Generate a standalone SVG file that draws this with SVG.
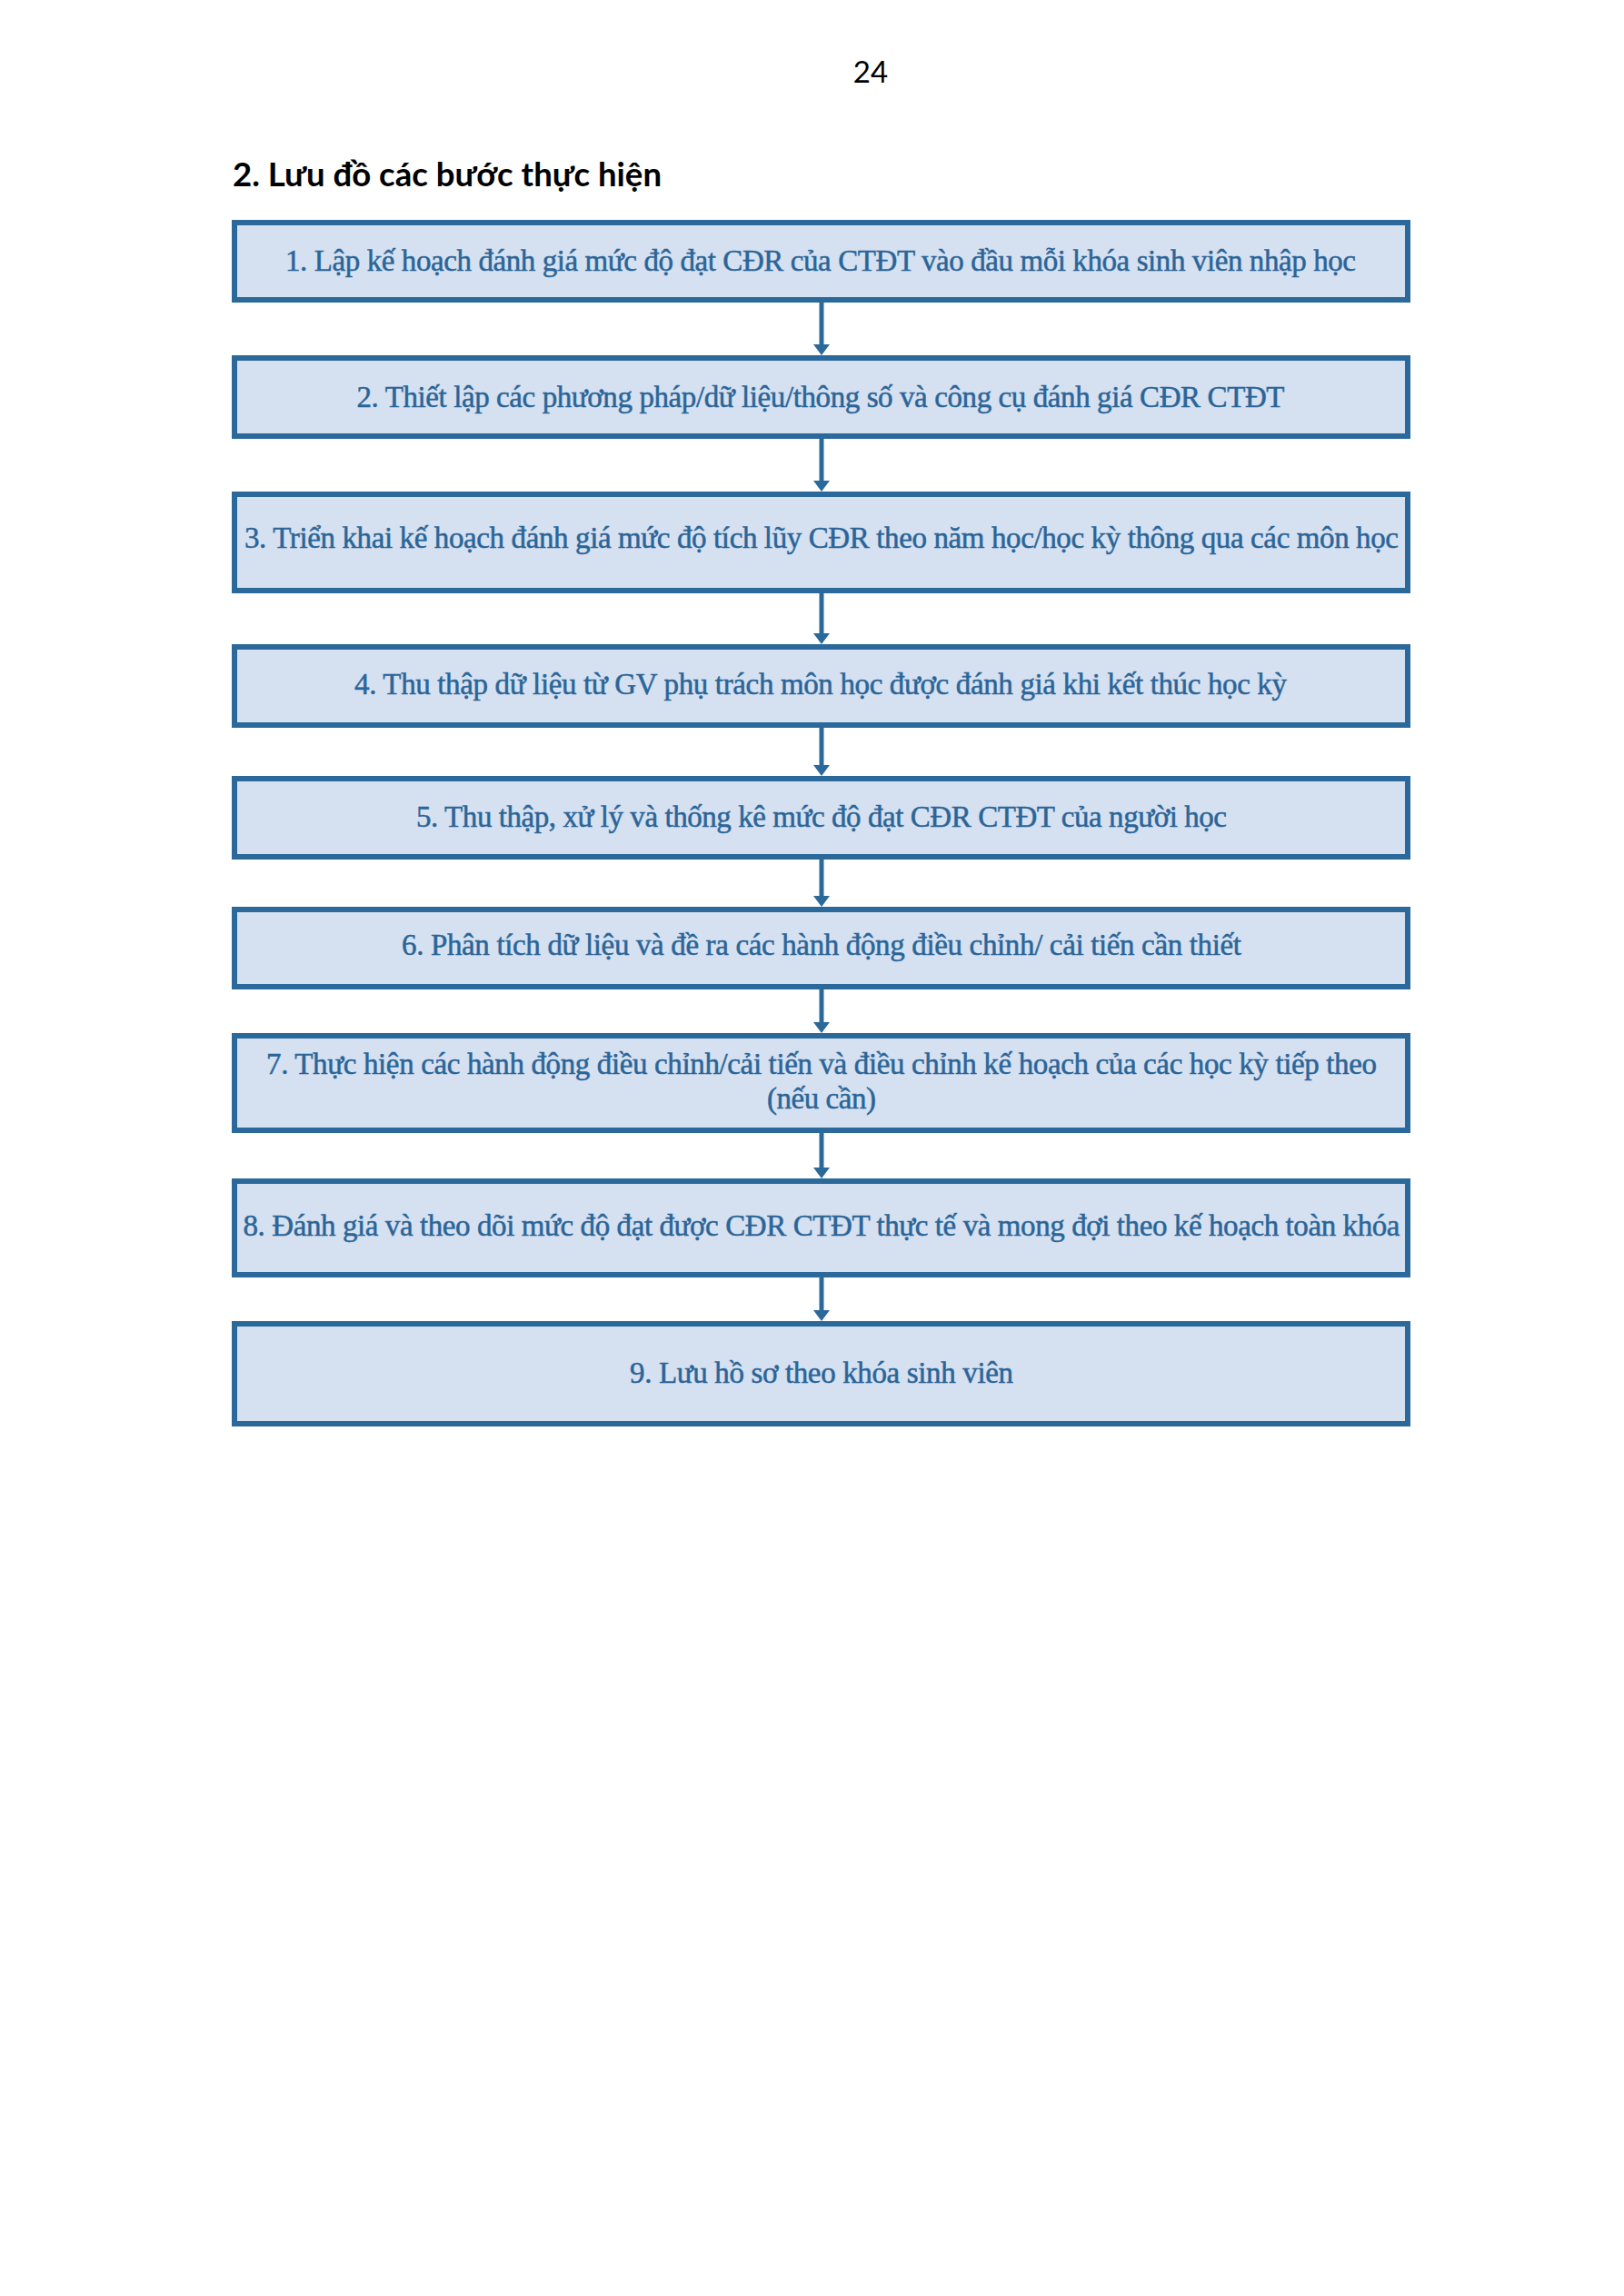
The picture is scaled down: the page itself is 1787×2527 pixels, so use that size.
<svg xmlns="http://www.w3.org/2000/svg" width="1787" height="2527" viewBox="0 0 1787 2527">
<style>
.bg{fill:#ffffff}
.box{fill:#d5e0f0;stroke:#2b699b;stroke-width:6}
.lbl{font-family:"Liberation Serif","Times New Roman",serif;font-size:33px;fill:#2a6598;stroke:#2a6598;stroke-width:0.5;text-anchor:middle}
.conn{stroke:#2b699b;stroke-width:5;fill:none}
.title{font-family:Lato,"Liberation Sans",sans-serif;font-weight:bold;font-size:37px;fill:#000}
.pg{font-family:Lato,"Liberation Sans",sans-serif;font-size:33px;fill:#000;text-anchor:middle}
</style>
<defs>
<marker id="ah" markerUnits="userSpaceOnUse" markerWidth="13" markerHeight="18" refX="3" refY="9" orient="auto">
<path d="M0,0 L12,9 L0,18 z" fill="#2b699b"/>
</marker>
</defs>
<rect class="bg" x="0" y="0" width="1787" height="2527"/>
<text class="pg" x="958" y="91">24</text>
<text class="title" x="256" y="205" textLength="472" lengthAdjust="spacingAndGlyphs">2. Lưu đồ các bước thực hiện</text>
<g id="connectors">
<line class="conn" x1="904" y1="333" x2="904" y2="382" marker-end="url(#ah)"/>
<line class="conn" x1="904" y1="483" x2="904" y2="532" marker-end="url(#ah)"/>
<line class="conn" x1="904" y1="653" x2="904" y2="700" marker-end="url(#ah)"/>
<line class="conn" x1="904" y1="801" x2="904" y2="845" marker-end="url(#ah)"/>
<line class="conn" x1="904" y1="946" x2="904" y2="989" marker-end="url(#ah)"/>
<line class="conn" x1="904" y1="1089" x2="904" y2="1128" marker-end="url(#ah)"/>
<line class="conn" x1="904" y1="1247" x2="904" y2="1288" marker-end="url(#ah)"/>
<line class="conn" x1="904" y1="1406" x2="904" y2="1445" marker-end="url(#ah)"/>
</g>
<g id="step1"><rect class="box" x="258" y="245" width="1291" height="85"/><text class="lbl" x="903" y="298" textLength="1178">1. Lập kế hoạch đánh giá mức độ đạt CĐR của CTĐT vào đầu mỗi khóa sinh viên nhập học</text></g>
<g id="step2"><rect class="box" x="258" y="394" width="1291" height="86"/><text class="lbl" x="903" y="448" textLength="1021">2. Thiết lập các phương pháp/dữ liệu/thông số và công cụ đánh giá CĐR CTĐT</text></g>
<g id="step3"><rect class="box" x="258" y="544" width="1291" height="106"/><text class="lbl" x="904" y="603" textLength="1270">3. Triển khai kế hoạch đánh giá mức độ tích lũy CĐR theo năm học/học kỳ thông qua các môn học</text></g>
<g id="step4"><rect class="box" x="258" y="712" width="1291" height="86"/><text class="lbl" x="903" y="764" textLength="1026">4. Thu thập dữ liệu từ GV phụ trách môn học được đánh giá khi kết thúc học kỳ</text></g>
<g id="step5"><rect class="box" x="258" y="857" width="1291" height="86"/><text class="lbl" x="904" y="910" textLength="892">5. Thu thập, xử lý và thống kê mức độ đạt CĐR CTĐT của người học</text></g>
<g id="step6"><rect class="box" x="258" y="1001" width="1291" height="85"/><text class="lbl" x="904" y="1051" textLength="924">6. Phân tích dữ liệu và đề ra các hành động điều chỉnh/ cải tiến cần thiết</text></g>
<g id="step7"><rect class="box" x="258" y="1140" width="1291" height="104"/><text class="lbl" x="904" y="1182" textLength="1222">7. Thực hiện các hành động điều chỉnh/cải tiến và điều chỉnh kế hoạch của các học kỳ tiếp theo</text><text class="lbl" x="904" y="1220" textLength="120">(nếu cần)</text></g>
<g id="step8"><rect class="box" x="258" y="1300" width="1291" height="103"/><text class="lbl" x="904" y="1360" textLength="1273">8. Đánh giá và theo dõi mức độ đạt được CĐR CTĐT thực tế và mong đợi theo kế hoạch toàn khóa</text></g>
<g id="step9"><rect class="box" x="258" y="1457" width="1291" height="110"/><text class="lbl" x="904" y="1522" textLength="422">9. Lưu hồ sơ theo khóa sinh viên</text></g>
</svg>
